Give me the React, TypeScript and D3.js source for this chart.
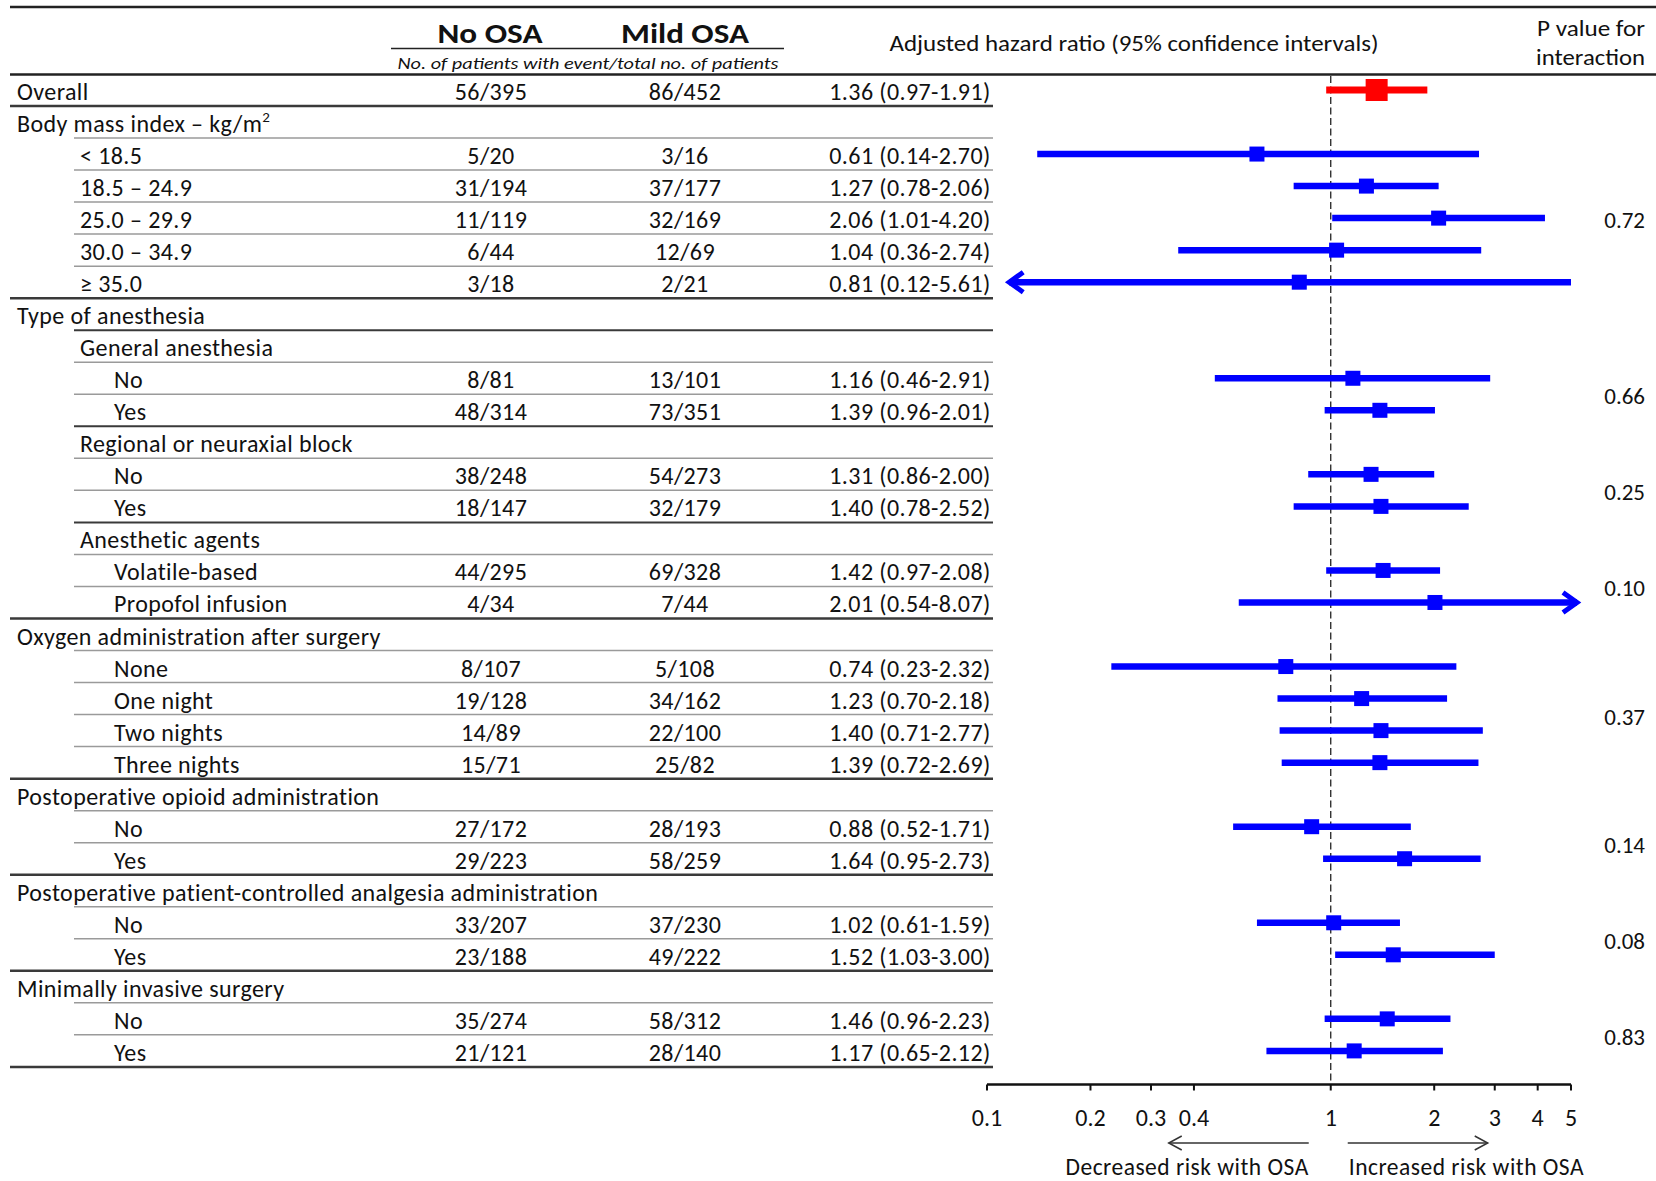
import * as d3 from "d3";
import React from "react";

// ---- data ----
const labels = [
  "Overall",
  "Body mass index – kg/m²",
  "< 18.5",
  "18.5 – 24.9",
  "25.0 – 29.9",
  "30.0 – 34.9",
  "≥ 35.0",
  "Type of anesthesia",
  "General anesthesia",
  "No",
  "Yes",
  "Regional or neuraxial block",
  "No",
  "Yes",
  "Anesthetic agents",
  "Volatile-based",
  "Propofol infusion",
  "Oxygen administration after surgery",
  "None",
  "One night",
  "Two nights",
  "Three nights",
  "Postoperative opioid administration",
  "No",
  "Yes",
  "Postoperative patient-controlled analgesia administration",
  "No",
  "Yes",
  "Minimally invasive surgery",
  "No",
  "Yes",
];
const levels = [0, 0, 1, 1, 1, 1, 1, 0, 1, 2, 2, 1, 2, 2, 1, 2, 2, 0, 2, 2, 2, 2, 0, 2, 2, 0, 2, 2, 0, 2, 2];

const noOsa = ["56/395", "", "5/20", "31/194", "11/119", "6/44", "3/18", "", "", "8/81", "48/314", "", "38/248", "18/147", "", "44/295", "4/34", "", "8/107", "19/128", "14/89", "15/71", "", "27/172", "29/223", "", "33/207", "23/188", "", "35/274", "21/121"];
const mildOsa = ["86/452", "", "3/16", "37/177", "32/169", "12/69", "2/21", "", "", "13/101", "73/351", "", "54/273", "32/179", "", "69/328", "7/44", "", "5/108", "34/162", "22/100", "25/82", "", "28/193", "58/259", "", "37/230", "49/222", "", "58/312", "28/140"];

const hr = [1.36, null, 0.61, 1.27, 2.06, 1.04, 0.81, null, null, 1.16, 1.39, null, 1.31, 1.40, null, 1.42, 2.01, null, 0.74, 1.23, 1.40, 1.39, null, 0.88, 1.64, null, 1.02, 1.52, null, 1.46, 1.17];
const lower = [0.97, null, 0.14, 0.78, 1.01, 0.36, 0.12, null, null, 0.46, 0.96, null, 0.86, 0.78, null, 0.97, 0.54, null, 0.23, 0.70, 0.71, 0.72, null, 0.52, 0.95, null, 0.61, 1.03, null, 0.96, 0.65];
const upper = [1.91, null, 2.70, 2.06, 4.20, 2.74, 5.61, null, null, 2.91, 2.01, null, 2.00, 2.52, null, 2.08, 8.07, null, 2.32, 2.18, 2.77, 2.69, null, 1.71, 2.73, null, 1.59, 3.00, null, 2.23, 2.12];
// arrow drawn on the CI line in the source figure
const arrowSide = { 6: "left", 16: "right" };

// separator under each row: full = group end, dark = subgroup end, thin = ordinary
const rules = ["full", "thin", "thin", "thin", "thin", "thin", "full", "dark", "thin", "thin", "dark", "thin", "thin", "dark", "thin", "thin", "full", "thin", "thin", "thin", "thin", "full", "thin", "thin", "full", "thin", "thin", "full", "thin", "thin", "full"];

const pValues = ["0.72", "0.66", "0.25", "0.10", "0.37", "0.14", "0.08", "0.83"];
const pRows = [[2, 6], [9, 10], [12, 13], [15, 16], [18, 21], [23, 24], [26, 27], [29, 30]];

const tickValues = [0.1, 0.2, 0.3, 0.4, 1, 2, 3, 4, 5];

// ---- layout ----
const W = 1656;
const H = 1181;
const FONT = "Carlito, Calibri, Lato, 'Open Sans', sans-serif";
const TXT = "#111";
const ROW_H = 32.03;
const AXIS_Y = 1084.5;
const TABLE_R = 993;
const indentX = [17, 80, 114];
const BASE = 10; // text baseline below row centre

const x = d3.scaleLog().domain([0.1, 5]).range([987, 1571]);
const y = d3.scaleLinear().domain([0, labels.length - 1]).range([90, 90 + (labels.length - 1) * ROW_H]);

function Label({ text, tx, ty }) {
  if (text.includes("²")) {
    const [a] = text.split("²");
    return (
      <text x={tx} y={ty}>
        {a}
        <tspan dy={-10} fontSize={15}>2</tspan>
      </text>
    );
  }
  return <text x={tx} y={ty}>{text}</text>;
}

function chevron(tipX, cy, dir, w, h) {
  const bx = tipX - dir * w;
  return `M${bx},${cy - h}L${tipX},${cy}L${bx},${cy + h}`;
}

export default function App() {
  const x1 = x(1);
  return (
    <svg width={W} height={H} style={{ position: "absolute", left: 0, top: 0, background: "#fff" }}
      fontFamily={FONT} fill={TXT}>
      {/* header */}
      <line x1={10} x2={W} y1={7} y2={7} stroke="#222" strokeWidth={2.5} />
      <text x={490} y={43} fontSize={28} fontWeight="bold" textAnchor="middle" textLength={105} lengthAdjust="spacingAndGlyphs">No OSA</text>
      <text x={685} y={43} fontSize={28} fontWeight="bold" textAnchor="middle" textLength={128} lengthAdjust="spacingAndGlyphs">Mild OSA</text>
      <line x1={391} x2={784} y1={48.5} y2={48.5} stroke="#222" strokeWidth={1.5} />
      <text x={588} y={69} fontSize={17} fontStyle="italic" textAnchor="middle" textLength={381} lengthAdjust="spacingAndGlyphs">No. of patients with event/total no. of patients</text>
      <text x={1134} y={51} fontSize={22} textAnchor="middle" textLength={489} lengthAdjust="spacingAndGlyphs">Adjusted hazard ratio (95% confidence intervals)</text>
      <text x={1645} y={36} fontSize={22} textAnchor="end" textLength={108} lengthAdjust="spacingAndGlyphs">P value for</text>
      <text x={1645} y={65} fontSize={22} textAnchor="end" textLength={109} lengthAdjust="spacingAndGlyphs">interaction</text>
      <line x1={10} x2={W} y1={74.5} y2={74.5} stroke="#222" strokeWidth={2.5} />

      {/* table rows */}
      <g fontSize={24} letterSpacing={0.4}>
        {labels.map((lab, i) => {
          const cy = y(i);
          const kind = rules[i];
          return (
            <g key={i}>
              <Label text={lab} tx={indentX[levels[i]]} ty={cy + BASE} />
              {noOsa[i] && <text x={491} y={cy + BASE} textAnchor="middle">{noOsa[i]}</text>}
              {mildOsa[i] && <text x={685} y={cy + BASE} textAnchor="middle">{mildOsa[i]}</text>}
              {hr[i] != null && (
                <text x={910} y={cy + BASE} textAnchor="middle">
                  {`${hr[i].toFixed(2)} (${lower[i].toFixed(2)}-${upper[i].toFixed(2)})`}
                </text>
              )}
              <line
                x1={kind === "full" ? 10 : 74}
                x2={TABLE_R}
                y1={cy + 16}
                y2={cy + 16}
                stroke={kind === "thin" ? "#9a9a9a" : "#3a3a3a"}
                strokeWidth={kind === "full" ? 2.5 : kind === "dark" ? 2 : 1.5}
              />
            </g>
          );
        })}
      </g>

      {/* p values */}
      <g fontSize={23} textAnchor="end">
        {pValues.map((p, k) => (
          <text key={k} x={1645} y={(y(pRows[k][0]) + y(pRows[k][1])) / 2 + BASE}>{p}</text>
        ))}
      </g>

      {/* reference line */}
      <line x1={x1} x2={x1} y1={76} y2={AXIS_Y} stroke="#222" strokeWidth={1.3} strokeDasharray="7,3.5" />

      {/* forest marks */}
      {hr.map((v, i) => {
        if (v == null) return null;
        const cy = y(i);
        const overall = i === 0;
        const col = overall ? "#ff0000" : "#0000ff";
        const side = arrowSide[i];
        let xa = x(lower[i]);
        let xb = x(Math.min(upper[i], 5));
        if (side === "left") xa = x(lower[i]) - 5;
        if (side === "right") xb = x(5) + 6;
        const s = overall ? 22 : 15;
        return (
          <g key={i}>
            <line x1={xa} x2={xb} y1={cy} y2={cy} stroke={col} strokeWidth={overall ? 7 : 6.5} />
            {side && (
              <path d={chevron(side === "left" ? xa : xb, cy, side === "left" ? -1 : 1, 14, 10)}
                fill="none" stroke={col} strokeWidth={5} strokeLinejoin="miter" />
            )}
            <rect x={x(v) - s / 2} y={cy - s / 2} width={s} height={s} fill={col} />
          </g>
        );
      })}

      {/* x axis */}
      <line x1={x(0.1)} x2={x(5)} y1={AXIS_Y} y2={AXIS_Y} stroke="#111" strokeWidth={2.5} />
      {tickValues.map((t) => (
        <g key={t}>
          <line x1={x(t)} x2={x(t)} y1={AXIS_Y} y2={AXIS_Y + 6} stroke="#111" strokeWidth={2} />
          <text x={x(t)} y={AXIS_Y + 41} fontSize={24} textAnchor="middle">{String(t)}</text>
        </g>
      ))}

      {/* direction arrows */}
      <line x1={x1 - 22} x2={x1 - 162} y1={1143} y2={1143} stroke="#333" strokeWidth={1.5} />
      <path d={chevron(x1 - 162, 1143, -1, 13, 7)} fill="none" stroke="#333" strokeWidth={1.5} />
      <line x1={x1 + 17} x2={x1 + 157} y1={1143} y2={1143} stroke="#333" strokeWidth={1.5} />
      <path d={chevron(x1 + 157, 1143, 1, 13, 7)} fill="none" stroke="#333" strokeWidth={1.5} />
      <g fontSize={23.5} letterSpacing={0.5}>
        <text x={x1 - 22} y={1174.5} textAnchor="end">Decreased risk with OSA</text>
        <text x={x1 + 18} y={1174.5}>Increased risk with OSA</text>
      </g>
    </svg>
  );
}
